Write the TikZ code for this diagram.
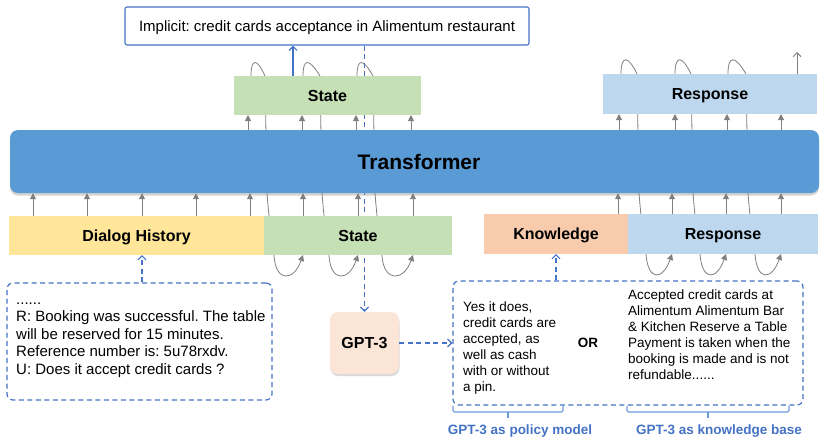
\documentclass[tikz,border=0pt]{standalone}
\usepackage{fontspec}
\setmainfont{Liberation Sans}
\usetikzlibrary{arrows.meta,shadows,backgrounds}
\frenchspacing
\definecolor{transC}{HTML}{5B9BD5}
\definecolor{stateC}{HTML}{C5E0B4}
\definecolor{dialC}{HTML}{FFE699}
\definecolor{knowC}{HTML}{F8CBAD}
\definecolor{respC}{HTML}{BDD7EE}
\definecolor{gptC}{HTML}{FBE5D6}
\definecolor{lineB}{HTML}{4472C4}
\definecolor{grayA}{HTML}{7F7F7F}
\definecolor{braceC}{HTML}{6E9BDB}
\begin{document}
\frenchspacing
\begin{tikzpicture}[x=1pt,y=-1pt,
  segbox/.style={inner sep=0pt, outer sep=0pt, font=\fontsize{16}{19}\selectfont\bfseries, text height=11.5pt, text depth=0pt},
  garrow/.style={draw=grayA, line width=0.9pt, -{Triangle[width=6pt,length=6pt]}},
  gline/.style={draw=grayA, line width=0.8pt},
  bdash/.style={draw=lineB, line width=1.2pt, dash pattern=on 5pt off 3.5pt},
  barb/.style={-{Straight Barb[width=8pt,length=4pt,line width=1.2pt]}},
  dtext/.style={inner sep=0pt, anchor=base west, font=\fontsize{15}{17.5}\selectfont},
  btext/.style={inner sep=0pt, anchor=base west, font=\fontsize{13.5}{16}\selectfont},
  bracket/.style={draw=braceC, line width=1.1pt},
  bluelbl/.style={inner sep=0pt, anchor=base, text=lineB, font=\fontsize{13.5}{16}\selectfont\bfseries}
]
\useasboundingbox (0,0) rectangle (822,440);

% main boxes
\node[fill=transC, rounded corners=8pt, minimum width=809pt, minimum height=63pt, inner sep=0pt,
      drop shadow={shadow xshift=0pt, shadow yshift=-2.5pt, opacity=0.35}] (trans) at (414.5,161.5) {};
\node[inner sep=0pt, font=\fontsize{21}{24}\selectfont\bfseries, text height=15pt, text depth=0pt] (transT) at (419,161.5) {Transformer};

\node[segbox, fill=stateC, minimum width=187pt, minimum height=39pt] (stTop) at (327.5,95.5) {State};
\node[segbox, fill=respC, minimum width=214pt, minimum height=40pt] (rsTop) at (710,94) {Response};

\node[draw=lineB, line width=1.1pt, rounded corners=2pt, minimum width=404pt, minimum height=38pt, inner sep=0pt,
      font=\fontsize{15}{18}\selectfont, text height=11pt, text depth=0pt] (impl) at (327,26) {Implicit: credit cards acceptance in Alimentum restaurant};

\node[segbox, fill=dialC, minimum width=255pt, minimum height=39pt] (dh) at (136.5,235.5) {Dialog History};
\node[segbox, fill=stateC, minimum width=188pt, minimum height=39pt] (stBot) at (358,235.5) {State};
\node[segbox, fill=knowC, minimum width=144pt, minimum height=40pt] (kn) at (556,234) {Knowledge};
\node[segbox, fill=respC, minimum width=190pt, minimum height=40pt] (rsBot) at (723,234) {Response};

% dialog context box
\node[bdash, rounded corners=6pt, minimum width=265pt, minimum height=117pt, inner sep=0pt] (dt) at (139.5,341.5) {};
\node[dtext] (dl1) at (16,304) {......};
\node[dtext] (dl2) at (16,321.5) {R: Booking was successful. The table};
\node[dtext] (dl3) at (16,339) {will be reserved for 15 minutes.};
\node[dtext] (dl4) at (16,356.5) {Reference number is: 5u78rxdv.};
\node[dtext] (dl5) at (16,374) {U: Does it accept credit cards ?};

% GPT-3
\node[fill=gptC, rounded corners=8pt, minimum width=69pt, minimum height=62pt, inner sep=0pt,
      font=\fontsize{16}{19}\selectfont\bfseries, text height=11.5pt, text depth=0pt,
      drop shadow={shadow xshift=0.5pt, shadow yshift=-2pt, opacity=0.3}] (gpt) at (364.5,343) {GPT-3};

% generated box
\node[bdash, rounded corners=6pt, minimum width=350pt, minimum height=124pt, inner sep=0pt] (big) at (628,343) {};
\node[btext] (y1) at (463,311) {Yes it does,};
\node[btext] (y2) at (463,327) {credit cards are};
\node[btext] (y3) at (463,343) {accepted, as};
\node[btext] (y4) at (463,359) {well as cash};
\node[btext] (y5) at (463,375) {with or without};
\node[btext] (y6) at (463,391) {a pin.};
\node[inner sep=0pt, anchor=base, font=\fontsize{13.5}{16}\selectfont\bfseries] (or) at (588,347) {OR};
\node[btext] (k1) at (628,299) {Accepted credit cards at};
\node[btext] (k2) at (628,315) {Alimentum Alimentum Bar};
\node[btext] (k3) at (628,331) {\& Kitchen Reserve a Table};
\node[btext] (k4) at (628,347) {Payment is taken when the};
\node[btext] (k5) at (628,363) {booking is made and is not};
\node[btext] (k6) at (628,379) {refundable......};

% background loops and dashed line
\begin{scope}[on background layer]
  \foreach \a/\d/\r in {251/265/303, 303/320/358, 357/373/413}
    \draw[gline, -{Triangle[width=6pt,length=6pt]}] (\a,76) .. controls (\a,58) and (\a+6,58) .. (\d,76)
      -- (\d+2,193) .. controls (\d+4,220) and (\d+7,240) .. (\d+9,256)
      .. controls (\d+11,283) and (\r-9,281) .. (\r,255);
  \foreach \a/\d/\r in {621/637/672, 675/691/726, 728/746/781}
    \draw[gline, -{Triangle[width=6pt,length=6pt]}] (\a,74) .. controls (\a,55) and (\a+7,55) .. (\d,74)
      -- (\d+2,193) .. controls (\d+4,220) and (\d+7,238) .. (\d+9,254)
      .. controls (\d+11,282) and (\r-9,280) .. (\r,254);
  \draw[bdash, barb] (impl.south -| gpt.north) -- (gpt.north);
\end{scope}

% arrows into transformer
\foreach \x in {33,87,142,196,250}
  \draw[garrow] (\x,0 |- dh.north) -- (\x,0 |- trans.south);
\foreach \x in {303,358,413}
  \draw[garrow] (\x,0 |- stBot.north) -- (\x,0 |- trans.south);
\draw[garrow] (618,0 |- kn.north) -- (618,0 |- trans.south);
\foreach \x in {672,726,781}
  \draw[garrow] (\x,0 |- rsBot.north) -- (\x,0 |- trans.south);
% arrows out of transformer
\foreach \x in {248,302,356,411}
  \draw[garrow] (\x,0 |- trans.north) -- (\x,0 |- stTop.south);
\foreach \x in {619,675,727,781}
  \draw[garrow] (\x,0 |- trans.north) -- (\x,0 |- rsTop.south);
\coordinate (outEnd) at (797,52);
\draw[draw=grayA, line width=0.9pt, -{Straight Barb[width=8pt,length=4pt,line width=0.9pt]}] (outEnd |- rsTop.north) -- (outEnd);

% blue connectors
\draw[draw=lineB, line width=1.2pt, barb] (293,0 |- stTop.north) -- (293,0 |- impl.south);
\draw[bdash, barb] (142,0 |- dt.north) -- (142,0 |- dh.south);
\draw[bdash, barb] (big.north -| kn.south) -- (kn.south);
\draw[bdash, barb] (gpt.east) -- (gpt.east -| big.west);

% brackets
\draw[bracket, rounded corners=1.5pt] (453,406) -- (453,412) -- (563,412) -- (563,406);
\draw[bracket] (508,412) -- (508,418);
\draw[bracket, rounded corners=1.5pt] (627,406) -- (627,412) -- (789,412) -- (789,406);
\draw[bracket] (708,412) -- (708,418);
\node[bluelbl] (pm) at (520,434) {GPT-3 as policy model};
\node[bluelbl] (kb) at (719,434) {GPT-3 as knowledge base};
\end{tikzpicture}
\end{document}
